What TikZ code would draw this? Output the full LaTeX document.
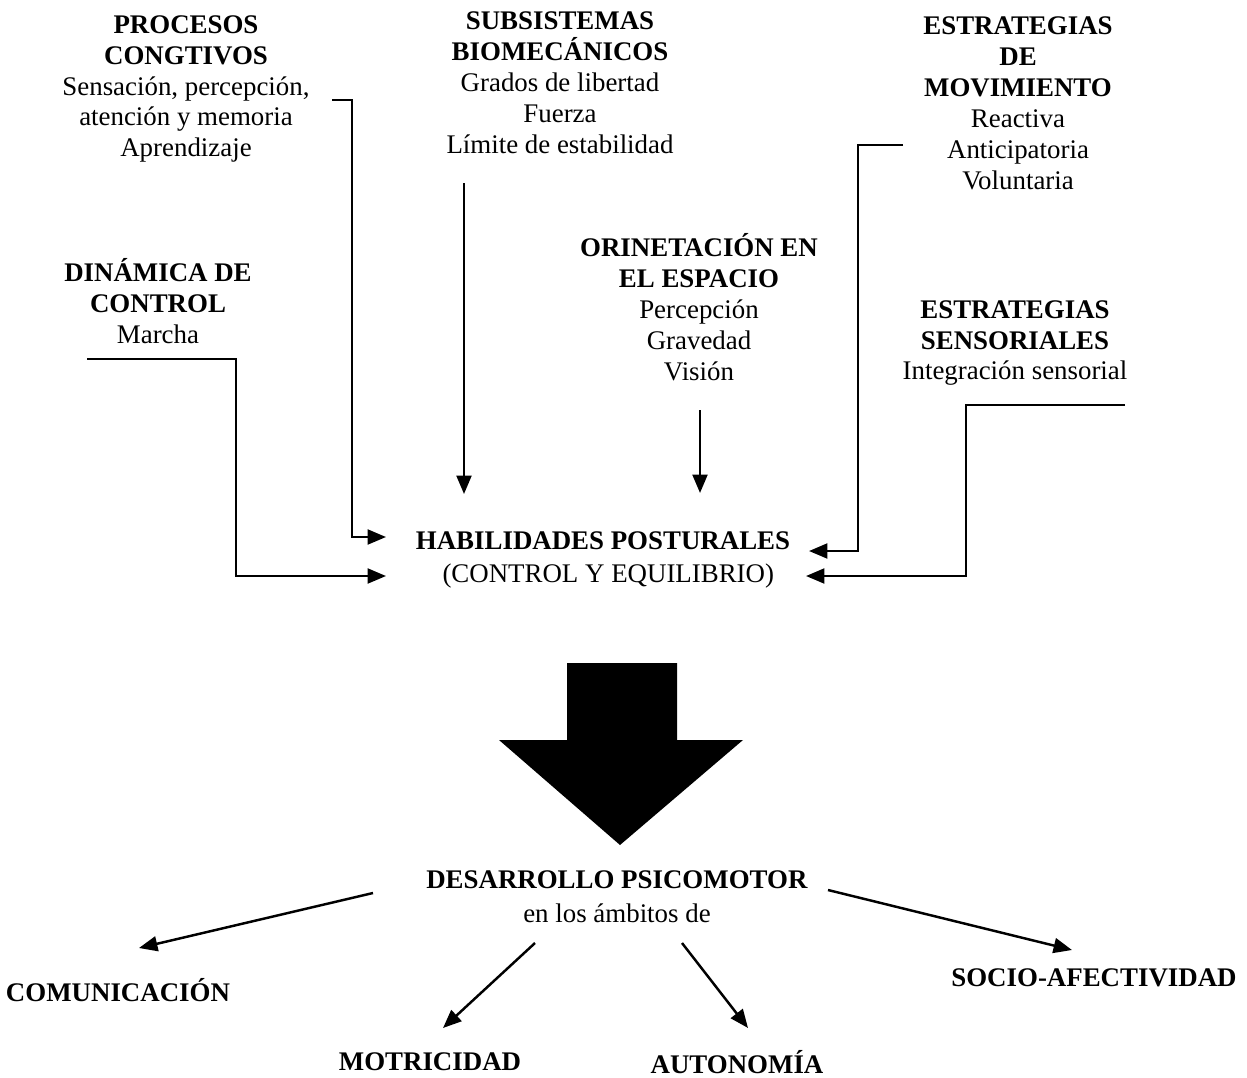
\documentclass[tikz,border=0pt]{standalone}
\usepackage{fontspec}
\setmainfont{Liberation Serif}
\usetikzlibrary{arrows.meta}
\begin{document}
\begin{tikzpicture}[x=0.02cm,y=-0.02cm,
  txt/.style={align=center,inner sep=0pt,font=\fontsize{15.3}{17.6}\selectfont},
  btxt/.style={inner sep=0pt,font=\fontsize{15.3}{17.6}\selectfont\bfseries},
  arr/.style={line width=1.4pt,-{Triangle[length=10.5pt,width=8.5pt]}}]
\useasboundingbox (0,0) rectangle (1247,1078);

% text blocks
\node[txt] (proc) at (186,89) {\textbf{PROCESOS}\\\textbf{CONGTIVOS}\\Sensación, percepción,\\atención y memoria\\Aprendizaje};
\node[txt] (sub) at (560,83) {\textbf{SUBSISTEMAS}\\\textbf{BIOMECÁNICOS}\\Grados de libertad\\Fuerza\\Límite de estabilidad};
\node[txt] (mov) at (1018,103) {\textbf{ESTRATEGIAS}\\\textbf{DE}\\\textbf{MOVIMIENTO}\\Reactiva\\Anticipatoria\\Voluntaria};
\node[txt] (din) at (158,301) {\textbf{DINÁMICA DE}\\\textbf{CONTROL}\\Marcha};
\node[txt] (ori) at (699,307) {\textbf{ORINETACIÓN EN}\\\textbf{EL ESPACIO}\\Percepción\\Gravedad\\Visión};
\node[txt] (sen) at (1015,343) {\textbf{ESTRATEGIAS}\\\textbf{SENSORIALES}\\Integración sensorial};
\node[txt] (hab) at (603,560) {\textbf{HABILIDADES POSTURALES}\\[1.7pt]\hspace{6pt}(CONTROL Y EQUILIBRIO)};
\node[txt] (des) at (617,897) {\textbf{DESARROLLO PSICOMOTOR}\\[1.7pt]en los ámbitos de};
\node[btxt] (com) at (118,990) {COMUNICACIÓN};
\node[btxt] (mot) at (430,1062) {MOTRICIDAD};
\node[btxt] (aut) at (737,1062) {AUTONOMÍA};
\node[btxt] (soc) at (1094,978) {SOCIO-AFECTIVIDAD};

% connector end points
\coordinate (p1) at (332,100);
\coordinate (p1a) at (386,537);
\coordinate (p2) at (87,359);
\coordinate (p2a) at (386,576);
\coordinate (p3) at (464,183);
\coordinate (p3a) at (464,494);
\coordinate (p4) at (700,410);
\coordinate (p4a) at (700,493);
\coordinate (p5) at (903,145);
\coordinate (p5a) at (809,551);
\coordinate (p6) at (1125,405);
\coordinate (p6a) at (806,576);

\draw[arr] (p1) -| (352,537) -- (p1a);
\draw[arr] (p2) -| (236,576) -- (p2a);
\draw[arr] (p3) -- (p3a);
\draw[arr] (p4) -- (p4a);
\draw[arr] (p5) -| (858,551) -- (p5a);
\draw[arr] (p6) -| (966,576) -- (p6a);

% big arrow
\fill (567,663) -- (677,663) -- (677,740) -- (743,740) -- (620,845) -- (499,740) -- (567,740) -- cycle;

% bottom arrows
\coordinate (b1) at (373,893);
\coordinate (b1a) at (139,948);
\coordinate (b2) at (535,943);
\coordinate (b2a) at (443,1028);
\coordinate (b3) at (682,943);
\coordinate (b3a) at (748,1028);
\coordinate (b4) at (828,890);
\coordinate (b4a) at (1072,950);
\draw[arr] (b1) -- (b1a);
\draw[arr] (b2) -- (b2a);
\draw[arr] (b3) -- (b3a);
\draw[arr] (b4) -- (b4a);
\end{tikzpicture}
\end{document}
